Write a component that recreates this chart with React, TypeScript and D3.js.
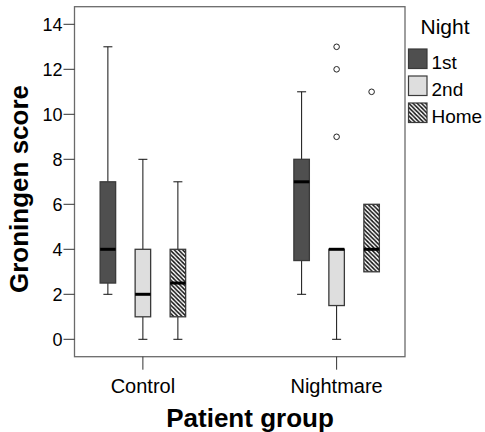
import React from "react";
import * as d3 from "d3";

// data
const groups = ["Control", "Nightmare"];
const nights = ["1st", "2nd", "Home"];

// one entry per box, order: Control 1st/2nd/Home, Nightmare 1st/2nd/Home
const boxGroup = ["Control", "Control", "Control", "Nightmare", "Nightmare", "Nightmare"];
const boxNight = ["1st", "2nd", "Home", "1st", "2nd", "Home"];
const whiskerLow = [2, 0, 0, 2, 0, 3];
const q1 = [2.5, 1, 1, 3.5, 1.5, 3];
const median = [4, 2, 2.5, 7, 4, 4];
const q3 = [7, 4, 4, 8, 4, 6];
const whiskerHigh = [13, 8, 7, 11, 4, 6];
const outliers = [[], [], [], [], [9, 12, 13], [11]];

const yTicks = [0, 2, 4, 6, 8, 10, 12, 14];

const fills: Record<string, string> = {
  "1st": "#4f4f4f",
  "2nd": "#dedede",
  Home: "url(#hatch)",
};

const font = "Arial, 'Liberation Sans', Helvetica, sans-serif";

export default function App() {
  const width = 485;
  const height = 432;
  const frame = { left: 74.5, right: 405, top: 6.7, bottom: 356.7 };

  const y = d3.scaleLinear().domain([0, 14]).range([339.3, 24.3]);
  const x = d3
    .scalePoint<string>()
    .domain(groups)
    .range([frame.left, frame.right])
    .padding(0.353);
  const sub = d3
    .scaleBand<string>()
    .domain(nights)
    .range([-42.75, 42.75])
    .paddingInner(0.557)
    .paddingOuter(0);
  const bw = sub.bandwidth();
  const cap = 9;

  return (
    <svg
      width={width}
      height={height}
      style={{ position: "absolute", left: 0, top: 0, background: "#fff" }}
      fontFamily={font}
    >
      <defs>
        <pattern id="hatch" patternUnits="userSpaceOnUse" width={4.2} height={4.2}>
          <rect width={4.2} height={4.2} fill="#fff" />
          <path
            d="M-1,-1 L5.2,5.2 M-1,3.2 L1,5.2 M3.2,-1 L5.2,1"
            stroke="#111"
            strokeWidth={1.5}
          />
        </pattern>
      </defs>

      {/* plot frame */}
      <rect
        x={frame.left}
        y={frame.top}
        width={frame.right - frame.left}
        height={frame.bottom - frame.top}
        fill="none"
        stroke="#6a6a6a"
        strokeWidth={1.3}
      />

      {/* y axis */}
      {yTicks.map((t) => (
        <g key={t}>
          <line x1={frame.left - 11} x2={frame.left} y1={y(t)} y2={y(t)} stroke="#333" />
          <text
            x={frame.left - 12}
            y={y(t)}
            dy="0.35em"
            textAnchor="end"
            fontSize={18}
            fill="#000"
          >
            {t}
          </text>
        </g>
      ))}

      {/* x axis */}
      {groups.map((g) => (
        <g key={g}>
          <line x1={x(g)} x2={x(g)} y1={frame.bottom} y2={frame.bottom + 13} stroke="#333" />
          <text x={x(g)} y={392.5} textAnchor="middle" fontSize={20} fill="#000">
            {g}
          </text>
        </g>
      ))}

      {/* boxes */}
      {boxGroup.map((g, i) => {
        const cx = (x(g) as number) + (sub(boxNight[i]) as number) + bw / 2;
        const left = cx - bw / 2;
        return (
          <g key={i}>
            {whiskerHigh[i] > q3[i] && (
              <g stroke="#111" strokeWidth={1}>
                <line x1={cx} x2={cx} y1={y(q3[i])} y2={y(whiskerHigh[i])} />
                <line x1={cx - cap / 2} x2={cx + cap / 2} y1={y(whiskerHigh[i])} y2={y(whiskerHigh[i])} />
              </g>
            )}
            {whiskerLow[i] < q1[i] && (
              <g stroke="#111" strokeWidth={1}>
                <line x1={cx} x2={cx} y1={y(q1[i])} y2={y(whiskerLow[i])} />
                <line x1={cx - cap / 2} x2={cx + cap / 2} y1={y(whiskerLow[i])} y2={y(whiskerLow[i])} />
              </g>
            )}
            <rect
              x={left}
              y={y(q3[i])}
              width={bw}
              height={y(q1[i]) - y(q3[i])}
              fill={fills[boxNight[i]]}
              stroke="#3a3a3a"
              strokeWidth={1.3}
            />
            <line
              x1={left}
              x2={left + bw}
              y1={y(median[i])}
              y2={y(median[i])}
              stroke="#000"
              strokeWidth={3}
            />
            {outliers[i].map((v, k) => (
              <circle key={k} cx={cx} cy={y(v)} r={2.8} fill="#fff" stroke="#222" strokeWidth={1} />
            ))}
          </g>
        );
      })}

      {/* axis titles */}
      <text
        transform={`translate(${28},${189}) rotate(-90)`}
        textAnchor="middle"
        fontSize={26}
        fontWeight="bold"
        fill="#000"
      >
        Groningen score
      </text>
      <text x={250} y={427} textAnchor="middle" fontSize={26} fontWeight="bold" fill="#000">
        Patient group
      </text>

      {/* legend */}
      <text x={420.5} y={34.3} fontSize={21} fill="#000">
        Night
      </text>
      {nights.map((n, i) => (
        <g key={n} transform={`translate(408.5,${49 + i * 27})`}>
          <rect width={18.5} height={19.5} fill={fills[n]} stroke="#3a3a3a" strokeWidth={1.2} />
          <text x={23} y={19.5} fontSize={19} fill="#000">
            {n}
          </text>
        </g>
      ))}
    </svg>
  );
}
